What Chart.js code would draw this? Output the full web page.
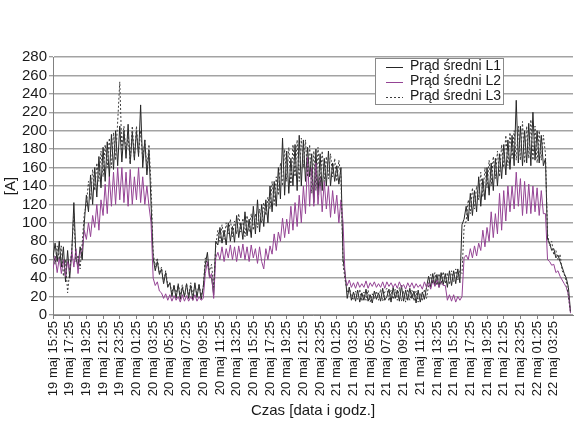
<!DOCTYPE html>
<html>
<head>
<meta charset="utf-8">
<script src="https://cdn.jsdelivr.net/npm/chart.js@4/dist/chart.umd.min.js"></script>
<style>
html,body{margin:0;padding:0;background:#fff;}
#wrap{width:579px;height:431px;position:relative;}
</style>
</head>
<body>
<div id="wrap"><canvas id="c" width="579" height="431"></canvas></div>
<script>
// Samples every 15 minutes, starting 19 maj 15:25 (hour 0)
const sampleIntervalHours = 0.25;

const seriesNames = ["Prąd średni L1", "Prąd średni L2", "Prąd średni L3"];

const pradL1 = [
 62,78,58,80, 52,74,36,70, 40,68,122,62, 52,74,60,100,
 130,112,152,120, 160,128,172,138, 182,145,188,150, 196,158,200,162,
 205,166,200,170, 207,164,198,168, 200,172,228,160, 190,152,178,120,
 62,48,58,44, 50,34,46,30, 35,20,32,18, 33,17,30,20,
 34,18,32,16, 35,19,33,17, 30,55,68,42, 40,22,80,76,
 95,78,92,76, 100,80,96,79, 108,84,100,82, 112,86,104,84,
 118,88,125,90, 120,96,125,100, 140,112,145,118, 160,126,192,130,
 178,132,170,140, 185,135,195,140, 190,145,182,150, 175,122,180,130,
 175,135,170,140, 178,140,165,145, 162,142,160,60, 45,18,30,16,
 25,15,27,14, 24,16,28,15, 22,13,26,17, 24,15,29,16,
 20,28,14,30, 18,27,15,32, 15,27,16,29, 18,26,13,27,
 14,25,17,30, 42,30,45,32, 44,30,46,33, 45,30,48,32,
 48,34,50,35, 98,104,118,102, 132,108,135,112, 150,118,148,125,
 160,130,165,135, 170,140,175,148, 185,152,190,158, 195,162,233,165,
 205,162,200,165, 208,162,220,168, 200,165,195,162, 170,82,78,70,
 72,62,65,58, 52,45,40,30, 4
];

const pradL2 = [
 50,64,46,62, 45,60,42,58, 48,70,52,72, 45,68,70,92,
 82,100,85,108, 95,120,92,125, 108,142,110,150, 118,155,120,160,
 125,160,122,155, 118,158,120,150, 125,160,122,150, 120,140,118,100,
 40,32,36,26, 24,18,23,16, 22,15,21,16, 20,14,22,15,
 21,15,20,16, 22,15,20,16, 18,45,58,40, 45,18,62,68,
 60,74,58,72, 62,76,60,74, 58,75,62,77, 60,74,58,76,
 62,72,56,74, 58,50,72,60, 75,66,88,70, 90,80,105,84,
 104,88,118,92, 122,96,130,100, 140,110,171,118, 160,118,165,120,
 150,112,145,115, 140,106,135,110, 130,100,125,100, 40,32,38,30,
 35,29,36,30, 34,30,37,29, 35,31,36,30, 34,30,36,29,
 36,31,35,30, 34,29,36,30, 33,28,35,30, 35,29,34,30,
 33,28,36,30, 35,28,38,31, 38,30,37,32, 32,16,22,15,
 22,14,20,16, 20,62,65,60, 72,62,75,64, 78,70,92,74,
 95,80,112,84, 110,88,132,92, 135,102,140,112, 140,115,155,118,
 148,108,145,110, 142,110,140,112, 138,108,135,110, 110,60,58,54,
 55,46,48,42, 38,34,30,22, 2
];

const pradL3 = [
 70,55,75,60, 75,42,60,24, 48,70,110,58, 65,50,78,110,
 120,145,125,158, 135,165,145,178, 150,185,160,192, 160,198,168,210,
 253,178,205,175, 195,165,205,170, 205,175,200,168, 190,158,185,140,
 68,52,62,45, 52,35,48,32, 35,24,33,22, 34,22,33,20,
 34,21,35,22, 32,22,34,21, 30,62,55,48, 55,30,75,92,
 80,98,82,100, 88,104,85,102, 88,110,90,105, 85,108,90,110,
 92,110,95,115, 100,122,108,128, 115,145,120,150, 130,165,140,180,
 145,182,140,185, 150,190,145,192, 160,190,150,185, 132,178,135,182,
 140,178,145,172, 148,175,150,170, 145,168,150,55, 38,25,30,20,
 16,26,17,28, 15,25,16,27, 14,23,17,26, 16,28,15,25,
 29,15,27,17, 28,16,30,15, 26,14,28,16, 27,15,26,14,
 24,15,28,18, 32,44,34,46, 32,45,33,47, 34,46,33,48,
 36,50,38,48, 45,95,102,125, 110,138,115,140, 125,155,128,160,
 138,168,140,172, 148,178,150,185, 160,195,162,198, 170,200,168,205,
 168,210,165,205, 170,212,168,205, 165,200,168,195, 175,88,75,80,
 65,70,60,66, 48,44,36,20, 3
];

const tickLabels = [
 "19 maj 15:25","19 maj 17:25","19 maj 19:25","19 maj 21:25","19 maj 23:25",
 "20 maj 01:25","20 maj 03:25","20 maj 05:25","20 maj 07:25","20 maj 09:25",
 "20 maj 11:25","20 maj 13:25","20 maj 15:25","20 maj 17:25","20 maj 19:25",
 "20 maj 21:25","20 maj 23:25","21 maj 01:25","21 maj 03:25","21 maj 05:25",
 "21 maj 07:25","21 maj 09:25","21 maj 11:25","21 maj 13:25","21 maj 15:25",
 "21 maj 17:25","21 maj 19:25","21 maj 21:25","21 maj 23:25","22 maj 01:25",
 "22 maj 03:25"
];
const tickStepHours = 2;

const FONT = "'Liberation Sans', Arial, sans-serif";

function pts(vals){ return vals.map((v,i)=>({x:i * sampleIntervalHours, y:v})); }

const legendPlugin = {
  id: 'boxLegend',
  afterDraw(chart){
    const ctx = chart.ctx;
    const ca = chart.chartArea;
    const left = ca.right - 198, top = ca.top + 1, w = 128, h = 46;
    ctx.save();
    ctx.fillStyle = '#ffffff';
    ctx.fillRect(left, top, w, h);
    ctx.strokeStyle = '#8a8a8a';
    ctx.lineWidth = 1;
    ctx.strokeRect(left + 0.5, top + 0.5, w, h);
    ctx.font = "14px " + FONT;
    ctx.textBaseline = 'middle';
    chart.data.datasets.forEach((ds, i) => {
      const y = top + 8.5 + i * 15;
      ctx.beginPath();
      ctx.strokeStyle = ds.borderColor;
      ctx.lineWidth = 1;
      ctx.setLineDash(ds.borderDash || []);
      ctx.moveTo(left + 11, Math.round(y) + 0.5);
      ctx.lineTo(left + 28, Math.round(y) + 0.5);
      ctx.stroke();
      ctx.setLineDash([]);
      ctx.fillStyle = '#1a1a1a';
      ctx.fillText(ds.label, left + 35, y);
    });
    ctx.restore();
  }
};

new Chart(document.getElementById('c'), {
  type: 'line',
  data: {
    datasets: [
      { label: seriesNames[0], data: pts(pradL1), borderColor: '#262626', borderWidth: 1, pointRadius: 0, order: 3 },
      { label: seriesNames[1], data: pts(pradL2), borderColor: '#944394', borderWidth: 1, pointRadius: 0, order: 2 },
      { label: seriesNames[2], data: pts(pradL3), borderColor: '#3c3c3c', borderWidth: 1, borderDash: [2,2], pointRadius: 0, order: 1 }
    ]
  },
  options: {
    responsive: false,
    animation: false,
    events: [],
    layout: { padding: { left: 0, right: 6, top: 57, bottom: 0 } },
    plugins: { legend: { display: false }, tooltip: { enabled: false } },
    scales: {
      x: {
        type: 'linear',
        min: 0,
        max: 62.3,
        afterFit(scale){ scale.height = 116; },
        afterBuildTicks(scale){
          scale.ticks = tickLabels.map((_, i) => ({ value: i * tickStepHours }));
        },
        ticks: {
          autoSkip: false,
          maxRotation: 90,
          minRotation: 90,
          padding: 2,
          color: '#1a1a1a',
          font: { family: FONT, size: 13 },
          callback(v){ return tickLabels[Math.round(v / tickStepHours)] || ''; }
        },
        grid: { display: true, drawOnChartArea: false, drawTicks: true, tickLength: 4, color: '#808080' },
        border: { display: true, color: '#808080', width: 1 },
        title: {
          display: true, text: 'Czas [data i godz.]', color: '#1a1a1a',
          font: { family: FONT, size: 15 }, padding: { top: 0, bottom: 11 }
        }
      },
      y: {
        min: 0, max: 280,
        afterFit(scale){ scale.width = 53; },
        ticks: { stepSize: 20, autoSkip: false, padding: 2, color: '#1a1a1a', font: { family: FONT, size: 15 } },
        grid: { color: '#a3a3a3', lineWidth: 1.5, tickLength: 4, tickColor: '#808080', tickWidth: 1 },
        border: { display: true, color: '#808080', width: 1 },
        title: {
          display: true, text: '[A]', color: '#1a1a1a',
          font: { family: FONT, size: 15 }, padding: { top: 2, bottom: 0 }
        }
      }
    }
  },
  plugins: [legendPlugin]
});
</script>
</body>
</html>
